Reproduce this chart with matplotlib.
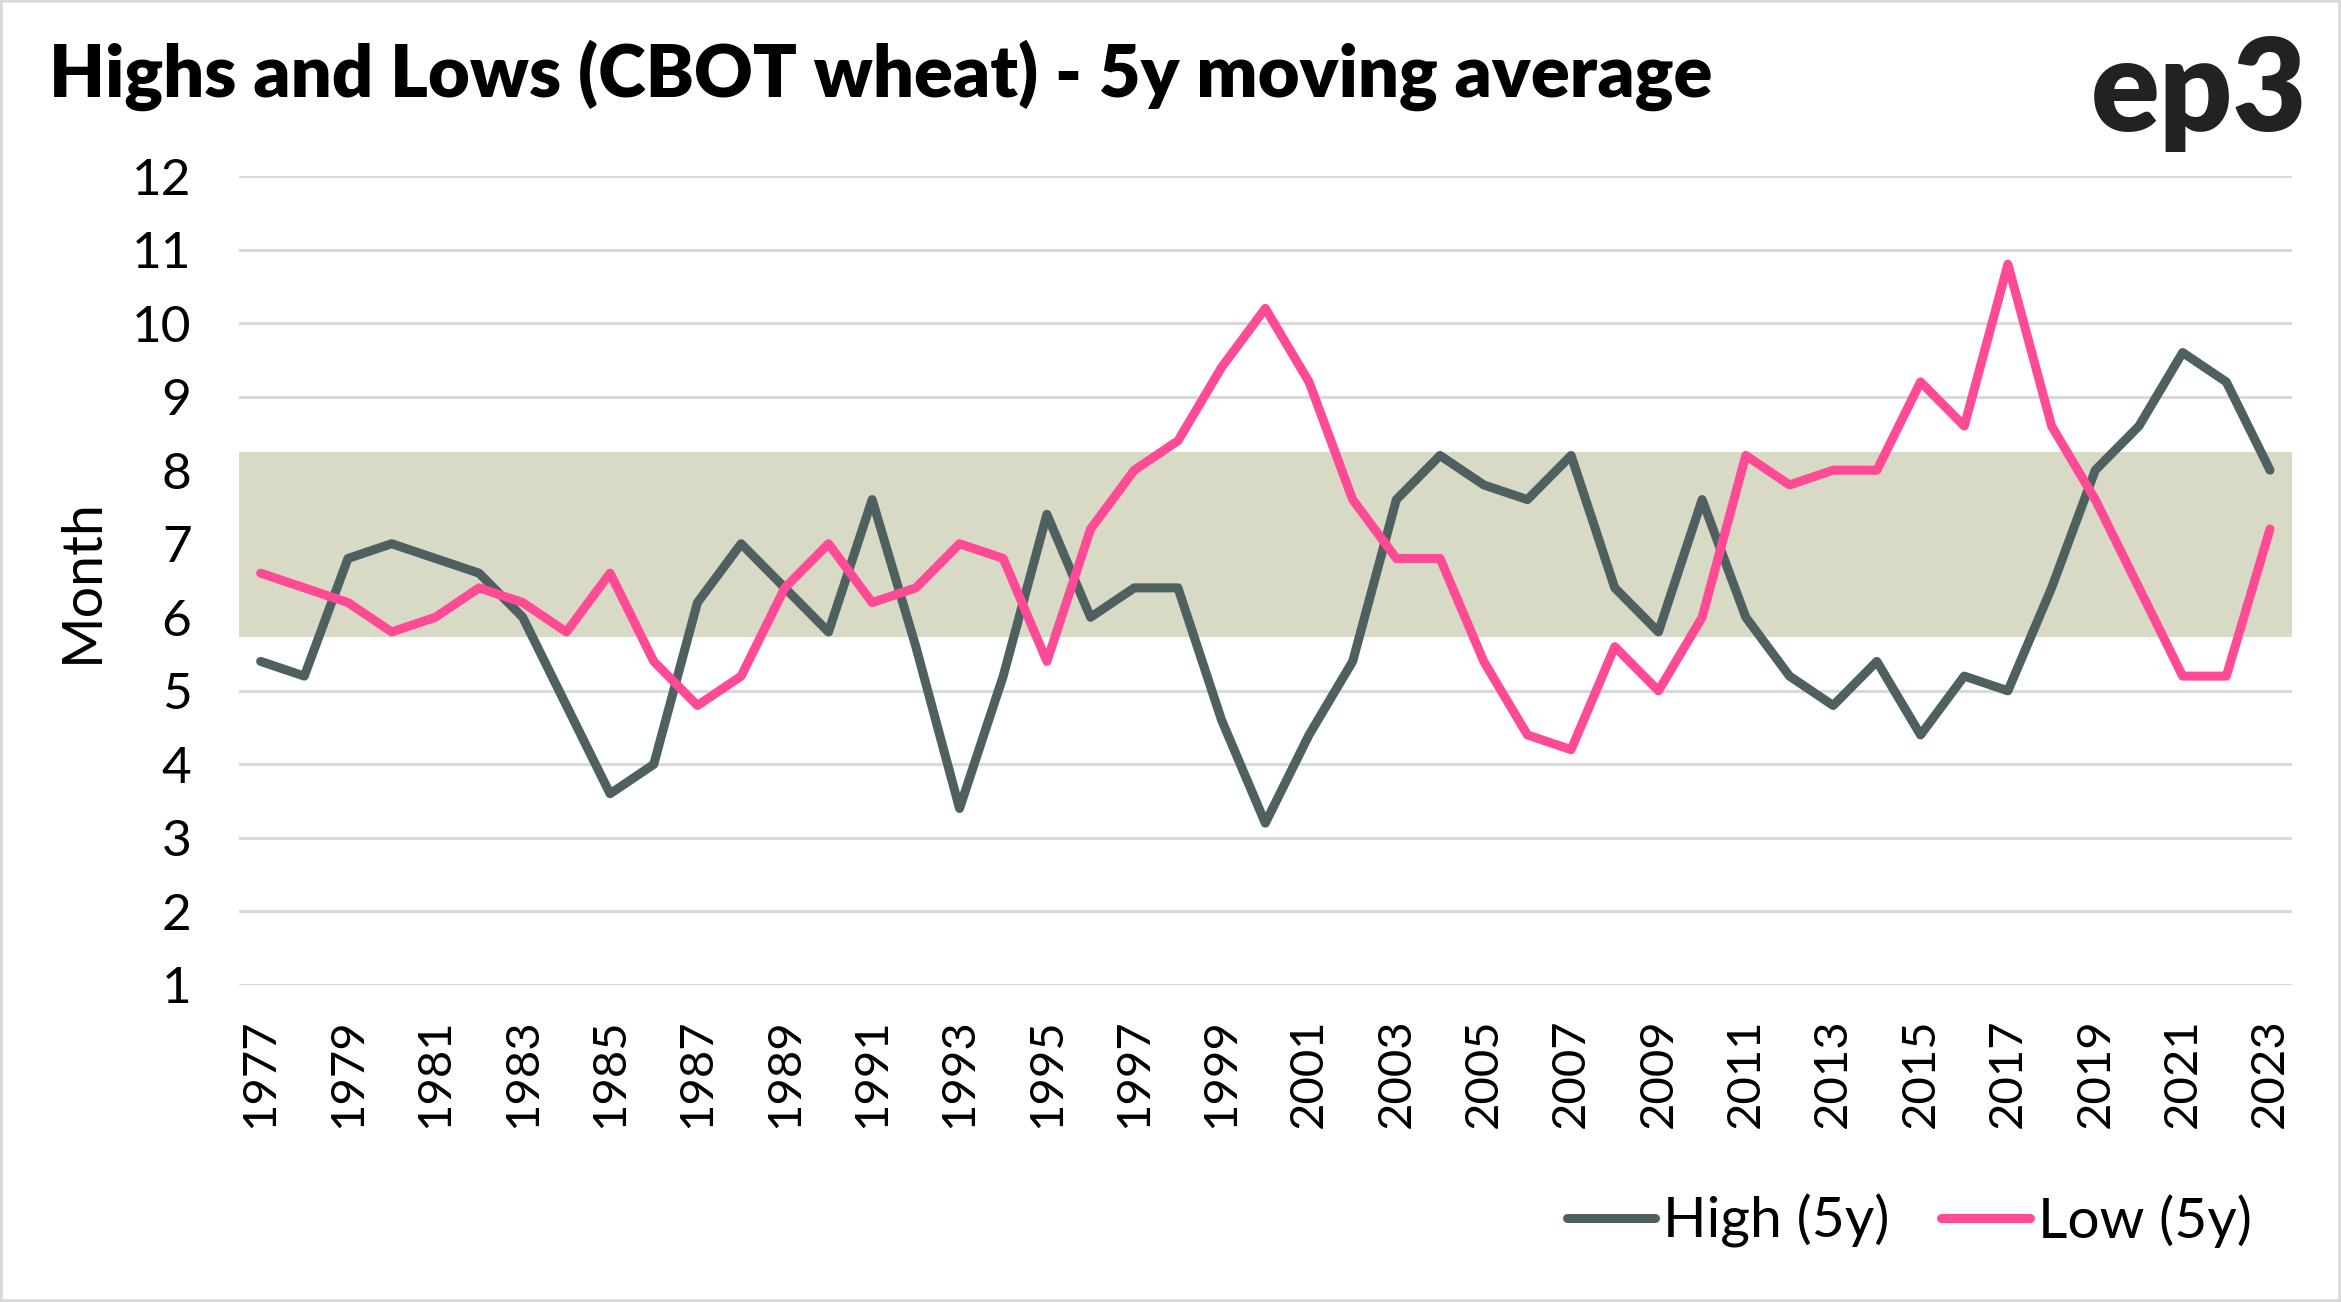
import matplotlib
matplotlib.use("Agg")
import matplotlib.pyplot as plt
import matplotlib.patches as patches

plt.rcParams['font.family'] = ['Lato', 'DejaVu Sans']

years = list(range(1977, 2024))

high_5y = [5.4, 5.2, 6.8, 7.0, 6.8, 6.6, 6.0, 4.8, 3.6, 4.0,
           6.2, 7.0, 6.4, 5.8, 7.6, 5.6, 3.4, 5.2, 7.4, 6.0,
           6.4, 6.4, 4.6, 3.2, 4.4, 5.4, 7.6, 8.2, 7.8, 7.6,
           8.2, 6.4, 5.8, 7.6, 6.0, 5.2, 4.8, 5.4, 4.4, 5.2,
           5.0, 6.4, 8.0, 8.6, 9.6, 9.2, 8.0]

low_5y = [6.6, 6.4, 6.2, 5.8, 6.0, 6.4, 6.2, 5.8, 6.6, 5.4,
          4.8, 5.2, 6.4, 7.0, 6.2, 6.4, 7.0, 6.8, 5.4, 7.2,
          8.0, 8.4, 9.4, 10.2, 9.2, 7.6, 6.8, 6.8, 5.4, 4.4,
          4.2, 5.6, 5.0, 6.0, 8.2, 7.8, 8.0, 8.0, 9.2, 8.6,
          10.8, 8.6, 7.6, 6.4, 5.2, 5.2, 7.2]

band_range = (5.73, 8.25)
y_ticks = list(range(1, 13))
x_tick_years = years[::2]

HIGH_COL = "#4E6060"
LOW_COL = "#FF4B96"
BAND_COL = "#D9DAC5"
GRID_COL = "#D9D9D9"

fig = plt.figure(figsize=(23.41, 13.02), dpi=100)
ax = fig.add_axes([0.102, 0.2435, 0.877, 0.6213])

ax.axhspan(band_range[0], band_range[1], color=BAND_COL, lw=0, zorder=1)
ax.plot(years, high_5y, color=HIGH_COL, lw=6.5, solid_capstyle='round',
        solid_joinstyle='round', label="High (5y)", zorder=3)
ax.plot(years, low_5y, color=LOW_COL, lw=6.5, solid_capstyle='round',
        solid_joinstyle='round', label="Low (5y)", zorder=3)

ax.set_xlim(years[0] - 0.5, years[-1] + 0.5)
ax.set_ylim(1, 12)
ax.set_yticks(y_ticks)
ax.set_xticks(x_tick_years)
ax.set_xticklabels([str(y) for y in x_tick_years], rotation=90)
ax.grid(axis='y', color=GRID_COL, lw=2.2, zorder=0)
ax.set_axisbelow(True)
for s in ax.spines.values():
    s.set_visible(False)
ax.tick_params(axis='both', length=0, labelsize=34, colors='black')
ax.tick_params(axis='y', pad=34, labelsize=37)
ax.tick_params(axis='x', pad=24)

ax.set_ylabel("Month", fontsize=40)
ax.yaxis.set_label_coords(-0.064, 0.5)

leg = fig.legend(loc='center right', bbox_to_anchor=(0.962, 0.062), ncol=2,
                 frameon=False, fontsize=41, handlelength=1.55,
                 handletextpad=0.15, columnspacing=0.9, borderpad=0,
                 borderaxespad=0)

fig.text(0.021, 0.9255, "Highs and Lows (CBOT wheat) - 5y moving average",
         fontsize=52, fontweight='heavy', ha='left', va='baseline')
fig.text(0.9855, 0.8994, "ep3", fontsize=92, fontweight='heavy',
         color='#222222', ha='right', va='baseline')

fig.patches.append(patches.Rectangle((0, 0), 1, 1, transform=fig.transFigure,
                                     fill=False, edgecolor=GRID_COL, lw=4))

fig.savefig("out.png", dpi=100)
